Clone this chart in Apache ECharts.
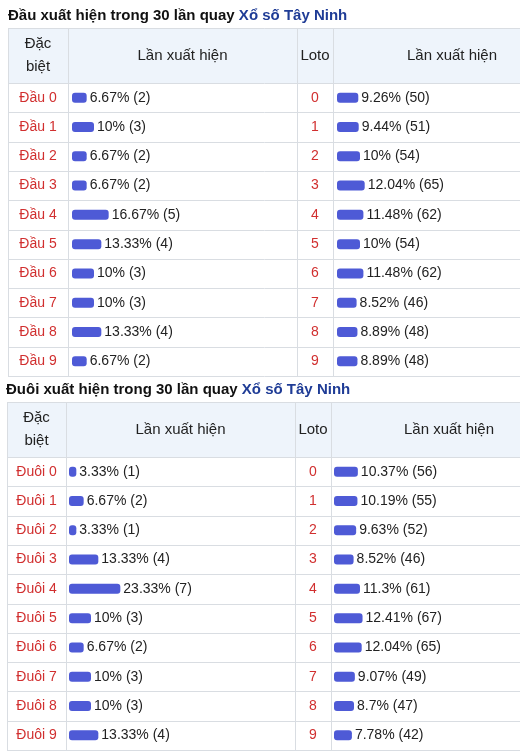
<!DOCTYPE html>
<html><head><meta charset="utf-8">
<script src="https://cdn.jsdelivr.net/npm/echarts@6/dist/echarts.min.js"></script>
<style>html,body{margin:0;padding:0;background:#fff}#c{width:520px;height:756px}</style>
</head><body><div id="c"></div>
<script>
// ---- data ----
const dauLabels = ['Đầu 0','Đầu 1','Đầu 2','Đầu 3','Đầu 4','Đầu 5','Đầu 6','Đầu 7','Đầu 8','Đầu 9'];
const dauPct = [6.67, 10, 6.67, 6.67, 16.67, 13.33, 10, 10, 13.33, 6.67];
const dauCount = [2, 3, 2, 2, 5, 4, 3, 3, 4, 2];
const lotoLabels = ['0','1','2','3','4','5','6','7','8','9'];
const lotoTopPct = [9.26, 9.44, 10, 12.04, 11.48, 10, 11.48, 8.52, 8.89, 8.89];
const lotoTopCount = [50, 51, 54, 65, 62, 54, 62, 46, 48, 48];
const duoiLabels = ['Đuôi 0','Đuôi 1','Đuôi 2','Đuôi 3','Đuôi 4','Đuôi 5','Đuôi 6','Đuôi 7','Đuôi 8','Đuôi 9'];
const duoiPct = [3.33, 6.67, 3.33, 13.33, 23.33, 10, 6.67, 10, 10, 13.33];
const duoiCount = [1, 2, 1, 4, 7, 3, 2, 3, 3, 4];
const lotoBotPct = [10.37, 10.19, 9.63, 8.52, 11.3, 12.41, 12.04, 9.07, 8.7, 7.78];
const lotoBotCount = [56, 55, 52, 46, 61, 67, 65, 49, 47, 42];
const titleTop = 'Đầu xuất hiện trong 30 lần quay ';
const titleBot = 'Đuôi xuất hiện trong 30 lần quay ';
const titleLink = 'Xổ số Tây Ninh';
const headDb = 'Đặc\nbiệt', headLan = 'Lần xuất hiện', headLoto = 'Loto';

// ---- layout ----
const FONT = 'Arial, "Liberation Sans", sans-serif';
const RED = '#d12f2f', BAR = '#4e5ad6', LINE = '#d9dde2', HEAD = '#eef4fb';
const tables = [
  {titleY:17, titleX:8, top:28, headH:55, rowH:29.3, left:8, c1:68, c2:297, c3:333, right:571, off1:4, off3:4,
   title:titleTop, labels:dauLabels, pct:dauPct, cnt:dauCount, lpct:lotoTopPct, lcnt:lotoTopCount},
  {titleY:391, titleX:6, top:402, headH:55, rowH:29.3, left:7, c1:66, c2:295, c3:331, right:567, off1:3, off3:3,
   title:titleBot, labels:duoiLabels, pct:duoiPct, cnt:duoiCount, lpct:lotoBotPct, lcnt:lotoBotCount}
];
const PX1 = 2.2, PX3 = 2.3, XMAX = 50;

const graphic = [], grid = [], xAxis = [], yAxis = [], series = [];
tables.forEach((t, ti) => {
  const bodyTop = t.top + t.headH, bodyH = t.rowH * 10, bottom = bodyTop + bodyH;
  // title
  graphic.push({type:'text', left:t.titleX, top:t.titleY - 9, style:{
    text:'{a|' + t.title + '}{b|' + titleLink + '}',
    rich:{a:{fontFamily:FONT, fontSize:15, fontWeight:'bold', fill:'#111'},
          b:{fontFamily:FONT, fontSize:15, fontWeight:'bold', fill:'#1f3c96'}}}});
  // header bg
  graphic.push({type:'rect', shape:{x:t.left, y:t.top, width:t.right - t.left, height:t.headH},
    style:{fill:HEAD, stroke:null}});
  // horizontal lines
  const hl = [t.top, bodyTop];
  for (let i = 1; i <= 10; i++) hl.push(bodyTop + t.rowH * i);
  hl.forEach(y => graphic.push({type:'line', shape:{x1:t.left, y1:Math.round(y)+0.5, x2:t.right, y2:Math.round(y)+0.5},
    style:{stroke:LINE, lineWidth:1}}));
  [t.left, t.c1, t.c2, t.c3].forEach(x => graphic.push({type:'line',
    shape:{x1:x+0.5, y1:t.top, x2:x+0.5, y2:Math.round(bottom)+0.5}, style:{stroke:LINE, lineWidth:1}}));
  // header texts
  const hc = t.top + t.headH / 2;
  const ht = (txt, x) => graphic.push({type:'text', x:x, y:hc, style:{text:txt, fontFamily:FONT, fontSize:15,
    fill:'#222', align:'center', verticalAlign:'middle', lineHeight:23}});
  ht(headDb, (t.left + t.c1) / 2);
  ht(headLan, (t.c1 + t.c2) / 2);
  ht(headLoto, (t.c2 + t.c3) / 2);
  ht(headLan, (t.c3 + t.right) / 2);

  // grids
  const cols = [
    {gl:t.c1 + t.off1, px:PX1, labels:t.labels, pct:t.pct, cnt:t.cnt, lc:(t.left + t.c1) / 2},
    {gl:t.c3 + t.off3, px:PX3, labels:lotoLabels, pct:t.lpct, cnt:t.lcnt, lc:(t.c2 + t.c3) / 2}
  ];
  cols.forEach(c => {
    const gi = grid.length;
    grid.push({left:c.gl, top:bodyTop, width:c.px * XMAX, height:bodyH, containLabel:false});
    xAxis.push({gridIndex:gi, type:'value', min:0, max:XMAX, show:false});
    yAxis.push({gridIndex:gi, type:'category', data:c.labels, inverse:true,
      axisLine:{show:false}, axisTick:{show:false}, splitLine:{show:false},
      axisLabel:{color:RED, fontFamily:FONT, fontSize:14, align:'center', margin:c.gl - c.lc}});
    const cnt = c.cnt;
    series.push({type:'bar', xAxisIndex:gi, yAxisIndex:gi, data:c.pct, barWidth:10,
      itemStyle:{color:BAR, borderRadius:3}, silent:true, animation:false,
      label:{show:true, position:'right', distance:3, color:'#222', fontFamily:FONT, fontSize:14,
        formatter:p => p.value + '% (' + cnt[p.dataIndex] + ')'}});
  });
});

const chart = echarts.init(document.getElementById('c'), null, {renderer:'canvas'});
chart.setOption({animation:false, backgroundColor:'#fff', graphic:graphic, grid:grid, xAxis:xAxis, yAxis:yAxis, series:series});
</script>
</body></html>
